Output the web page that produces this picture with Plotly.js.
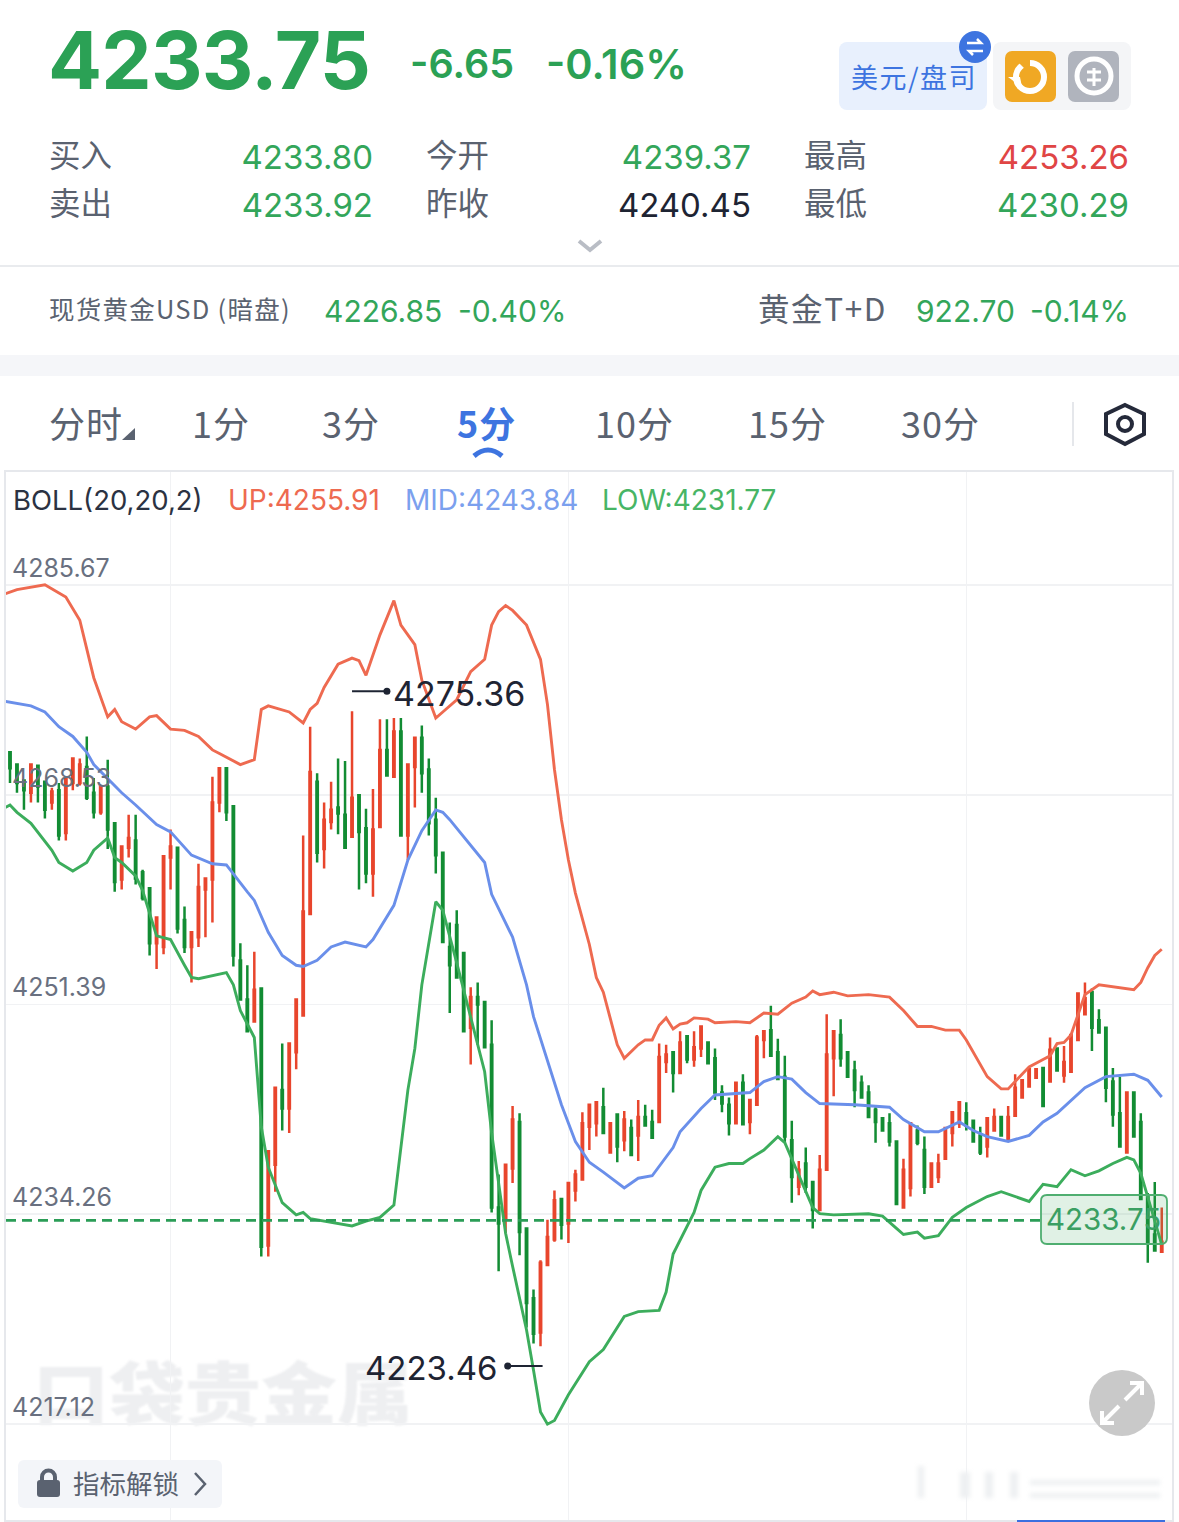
<!DOCTYPE html>
<html><head><meta charset="utf-8">
<script src="https://cdn.plot.ly/plotly-3.0.1.min.js"></script>
<style>
html,body{margin:0;padding:0;background:#fff;width:1179px;height:1522px;overflow:hidden}
body{position:relative;font-family:"Noto Sans CJK SC","Noto Sans",sans-serif;}
.t{position:absolute;white-space:nowrap;line-height:1;transform:translateY(-50%)}
.r{transform:translate(-100%,-50%)}
.n{font-family:"Inter","Noto Sans",sans-serif;}
.b{position:absolute}
#plot{position:absolute;left:0;top:0;width:1179px;height:1522px}
#wm{position:absolute;left:33px;top:1352px;font-size:76px;font-weight:900;color:#eeeff1;filter:blur(1.2px);line-height:1.1;transform:scaleY(.9);transform-origin:top}
</style></head>
<body>
<div id="hdr"></div>
<div id="wm">口袋贵金属</div>
<div id="plot"></div>
<div id="ovl"></div>
<script>
// ---- chart data ----
const tickValues = [4285.67, 4268.53, 4251.39, 4234.26, 4217.12];
const tickLabels = ["4285.67", "4268.53", "4251.39", "4234.26", "4217.12"];
const lastPrice = 4233.75;
const periodHigh = 4275.36, periodLow = 4223.46;

const high = [
4272.0,4271.0,4269.7,4271.0,4270.9,4269.6,4269.1,4269.5,4269.9,4271.5,
4271.5,4273.3,4269.9,4269.2,4271.4,4266.3,4264.3,4266.9,4266.9,4262.4,
4260.9,4258.5,4263.5,4265.7,4264.2,4259.4,4257.3,4262.9,4261.7,4270.0,
4270.7,4270.7,4267.6,4256.4,4254.6,4255.7,4252.7,4239.4,4244.6,4248.2,
4248.2,4251.8,4265.2,4274.1,4270.3,4267.9,4269.6,4271.5,4271.3,4275.36,
4268.5,4267.4,4269.0,4274.7,4274.7,4274.8,4274.8,4271.0,4273.2,4274.2,
4271.5,4268.3,4263.8,4258.1,4259.1,4255.6,4252.8,4253.2,4251.6,4250.1,
4237.5,4238.3,4243.1,4242.5,4233.1,4228.1,4230.5,4233.8,4236.2,4235.5,
4236.8,4237.9,4242.6,4243.2,4243.4,4244.6,4241.7,4242.4,4242.7,4242.0,
4243.6,4243.2,4242.8,4248.2,4248.1,4247.6,4249.2,4248.8,4249.2,4249.6,
4248.3,4247.8,4244.8,4243.8,4245.0,4245.7,4243.6,4248.9,4249.2,4251.3,
4248.6,4247.2,4241.9,4238.6,4239.7,4237.0,4239.1,4250.6,4249.2,4250.2,
4247.5,4246.8,4245.6,4244.8,4243.0,4242.1,4242.5,4240.2,4238.8,4241.7,
4241.5,4240.6,4238.4,4239.2,4241.3,4242.6,4243.4,4243.4,4241.9,4241.4,
4242.1,4242.9,4242.2,4243.1,4245.7,4245.2,4246.1,4246.1,4246.2,4248.7,
4247.8,4248.0,4248.9,4252.3,4253.2,4252.7,4251.0,4249.5,4246.2,4245.5,
4244.2,4244.2,4242.5,4236.0,4236.9,4234.8];
const low = [
4269.5,4268.7,4267.3,4267.9,4267.9,4266.6,4267.3,4264.8,4264.8,4268.9,
4269.3,4268.1,4266.6,4266.9,4264.1,4260.6,4260.8,4263.4,4261.2,4259.9,
4255.4,4254.3,4255.5,4260.8,4257.2,4255.6,4253.2,4256.1,4256.9,4258.1,
4267.1,4266.4,4254.5,4251.8,4249.2,4250.0,4230.8,4230.8,4236.1,4241.1,
4240.9,4246.1,4250.5,4258.8,4263.0,4262.5,4265.7,4265.3,4264.2,4265.1,
4260.8,4261.3,4260.2,4265.9,4270.1,4270.0,4265.2,4263.2,4267.5,4268.7,
4265.2,4262.1,4256.5,4250.7,4253.6,4249.2,4246.5,4248.1,4247.9,4234.4,
4229.6,4232.7,4236.8,4230.9,4225.0,4223.7,4223.46,4230.0,4232.0,4232.2,
4231.9,4235.3,4237.1,4239.5,4240.6,4240.9,4239.3,4238.5,4239.4,4239.1,
4238.6,4241.5,4240.5,4241.8,4245.8,4244.2,4245.8,4246.6,4246.3,4247.1,
4246.5,4243.6,4242.6,4240.7,4241.6,4241.6,4240.8,4243.1,4247.0,4247.2,
4245.3,4240.1,4235.2,4235.8,4236.0,4233.1,4234.6,4237.9,4243.9,4246.3,
4245.5,4243.0,4243.8,4242.2,4240.1,4241.0,4239.8,4235.1,4234.7,4235.7,
4239.9,4235.9,4236.5,4236.8,4238.8,4239.8,4241.3,4241.1,4240.2,4239.1,
4238.9,4241.1,4240.7,4240.3,4242.3,4243.8,4244.7,4245.4,4243.1,4245.1,
4246.0,4245.0,4245.9,4248.5,4250.6,4247.6,4249.1,4243.4,4241.4,4239.8,
4239.3,4240.6,4235.5,4230.29,4231.3,4231.2];
const open = [
4272.0,4271.0,4269.7,4268.7,4270.9,4269.6,4267.9,4268.9,4265.4,4269.5,
4269.5,4270.8,4268.7,4267.1,4269.2,4266.2,4261.6,4264.2,4264.8,4262.2,
4260.9,4256.4,4256.1,4263.4,4264.2,4258.3,4256.1,4256.9,4260.8,4261.6,
4267.9,4270.7,4267.6,4255.0,4251.8,4250.0,4252.7,4231.7,4238.3,4244.4,
4242.9,4247.5,4250.5,4258.8,4269.6,4264.1,4266.3,4267.5,4266.9,4265.1,
4268.5,4265.8,4262.1,4265.9,4272.2,4270.0,4273.7,4265.2,4270.8,4273.2,
4270.6,4266.5,4263.8,4256.1,4257.9,4255.6,4249.5,4252.0,4251.6,4248.1,
4234.8,4233.8,4238.0,4241.8,4233.1,4227.4,4224.6,4230.1,4232.2,4235.5,
4233.5,4236.2,4237.1,4241.4,4241.7,4243.0,4239.3,4242.4,4240.3,4241.3,
4240.7,4242.2,4241.8,4241.8,4246.7,4247.5,4245.8,4248.8,4246.9,4247.8,
4248.3,4247.0,4244.2,4243.2,4241.7,4245.0,4241.8,4243.2,4248.5,4249.3,
4247.5,4245.5,4240.3,4236.5,4238.4,4236.9,4234.6,4237.9,4247.0,4248.9,
4247.5,4246.0,4245.0,4244.2,4242.8,4242.1,4241.7,4240.2,4234.8,4236.4,
4241.1,4239.5,4236.5,4237.3,4238.8,4240.9,4241.7,4242.5,4241.9,4240.7,
4239.8,4241.1,4242.2,4240.3,4242.3,4243.8,4244.7,4245.4,4246.2,4245.1,
4247.8,4245.6,4245.9,4248.5,4250.6,4252.4,4250.1,4249.5,4245.1,4242.5,
4239.3,4244.2,4241.8,4235.8,4232.6,4231.2];
const close = [
4270.7,4269.5,4268.9,4271.0,4269.2,4267.3,4268.8,4265.2,4269.9,4271.5,
4271.0,4268.3,4267.1,4269.2,4265.7,4261.4,4264.3,4265.0,4261.7,4260.1,
4256.4,4258.5,4263.5,4264.3,4257.6,4256.1,4257.3,4261.0,4261.7,4267.9,
4270.7,4267.1,4255.4,4251.8,4249.2,4252.6,4231.6,4239.4,4244.6,4242.9,
4248.2,4251.8,4259.0,4270.4,4263.8,4266.5,4267.3,4267.0,4264.2,4268.3,
4265.5,4262.1,4265.7,4272.2,4270.1,4273.7,4265.2,4271.0,4273.2,4270.3,
4266.2,4263.6,4256.5,4254.6,4253.6,4249.2,4252.0,4251.4,4247.9,4234.8,
4233.5,4238.3,4242.0,4232.8,4227.0,4224.5,4230.3,4232.4,4235.4,4233.4,
4236.8,4237.5,4241.7,4243.2,4243.4,4240.9,4241.7,4239.8,4242.0,4239.1,
4242.2,4241.5,4240.5,4247.1,4247.3,4245.8,4248.3,4246.9,4247.9,4249.6,
4246.6,4244.2,4243.3,4241.7,4245.0,4241.6,4243.6,4248.7,4249.2,4247.2,
4245.3,4240.6,4237.3,4237.9,4236.5,4234.6,4237.9,4247.3,4249.2,4247.0,
4245.5,4244.4,4243.8,4242.2,4241.8,4241.1,4240.2,4235.1,4237.9,4241.7,
4240.1,4236.5,4238.4,4238.4,4241.3,4242.6,4243.4,4241.5,4240.2,4239.3,
4242.1,4242.2,4240.7,4242.2,4244.6,4245.2,4246.1,4246.1,4243.1,4247.7,
4246.0,4246.7,4248.9,4252.3,4251.9,4249.5,4249.1,4244.6,4242.4,4239.8,
4244.2,4240.6,4235.5,4231.9,4231.3,4232.0];

const upIdx = [-1,1,5,8,10,12,14,15,16,18,20,21,23,25,27,29,30,33,35,36,37,40,42,43,44,45,47,49,50,51,53,55,56,58,59,61,62,64,66,68,69,70,71,72,74,76,77,78,79,80,81,83,84,85,87,88,90,91,92,93,94,95,96,97,98,100,101,104,106,108,110,112,114,115,116,118,120,123,126,128,130,132,134,136,137,139,140,142,143,144,146,148,149,150,151,152,153,154,156,161,162,163,164,165];
const upVal = [4284.9,4285.3,4285.7,4284.7,4282.8,4278.1,4274.9,4275.5,4274.5,4273.9,4274.9,4275.0,4273.9,4273.8,4273.3,4272.2,4271.9,4271.0,4271.4,4275.5,4275.8,4275.3,4274.4,4275.5,4276.0,4277.3,4279.2,4279.7,4279.5,4278.3,4281.6,4284.4,4282.4,4280.8,4277.9,4274.8,4275.3,4276.3,4278.6,4279.6,4282.4,4283.5,4284.0,4283.6,4282.4,4279.6,4275.9,4270.6,4266.5,4263.2,4260.5,4256.3,4253.6,4252.4,4248.1,4247.0,4248.1,4248.5,4248.5,4249.7,4250.3,4249.4,4249.8,4249.9,4250.3,4250.2,4249.9,4250.0,4249.9,4250.7,4250.6,4251.5,4252.0,4252.5,4252.2,4252.4,4252.1,4252.2,4252.0,4250.9,4249.6,4249.6,4249.3,4249.3,4248.5,4246.5,4245.5,4244.5,4244.5,4245.1,4246.3,4246.9,4247.2,4248.2,4248.3,4248.9,4250.5,4252.2,4253.0,4252.6,4253.2,4254.4,4255.4,4255.91];

const midIdx = [-1,3,5,7,9,11,12,16,18,21,23,26,29,31,34,35,37,39,41,42,44,46,48,51,52,55,57,59,61,62,63,68,69,72,74,75,79,81,83,85,88,90,92,95,96,99,101,103,106,108,110,112,114,116,121,126,128,131,133,136,138,140,143,146,148,150,154,157,161,163,165];
const midVal = [4276.2,4275.8,4275.3,4274.1,4273.3,4272.0,4271.0,4268.7,4267.7,4266.1,4265.5,4263.6,4262.9,4262.8,4260.6,4259.9,4257.3,4255.4,4254.6,4254.5,4255.0,4256.1,4256.5,4256.1,4256.7,4259.5,4263.2,4265.6,4267.3,4267.1,4266.5,4263.0,4260.4,4256.9,4253.0,4250.4,4243.2,4240.2,4238.5,4237.7,4236.4,4237.2,4237.4,4239.7,4241.0,4242.9,4244.0,4244.1,4244.2,4245.1,4245.5,4245.3,4244.2,4243.3,4243.2,4243.0,4242.0,4241.0,4241.0,4241.8,4241.1,4240.6,4240.2,4240.7,4241.8,4242.5,4244.6,4245.5,4245.7,4245.2,4243.84];

const lowIdx = [-1,0,1,3,6,7,9,11,12,14,15,16,18,19,21,23,25,26,27,31,32,33,35,36,37,39,41,42,43,47,49,51,53,55,57,58,59,61,62,64,68,69,71,72,74,75,76,77,78,80,83,85,88,90,93,94,95,98,99,101,103,105,106,108,110,111,115,116,118,123,125,127,128,130,131,133,135,137,140,142,146,148,150,152,154,156,158,160,161,162,165];
const lowVal = [4267.4,4267.7,4267.1,4266.2,4264.0,4263.0,4262.3,4263.0,4264.0,4265.0,4263.4,4263.0,4261.9,4260.7,4257.0,4256.7,4254.6,4253.6,4253.5,4254.0,4253.0,4250.9,4248.7,4241.4,4238.1,4235.2,4234.2,4234.4,4233.9,4233.5,4233.3,4233.7,4234.0,4235.0,4244.4,4247.8,4253.0,4259.8,4259.1,4254.8,4245.9,4240.9,4232.7,4230.0,4224.8,4221.5,4218.1,4217.1,4217.4,4219.5,4222.2,4223.2,4225.9,4226.3,4226.4,4227.9,4231.0,4234.4,4236.2,4238.1,4238.4,4238.4,4238.8,4239.5,4240.6,4240.1,4234.8,4234.3,4234.2,4234.3,4234.1,4233.1,4232.6,4232.8,4232.3,4232.5,4234.0,4234.8,4235.7,4236.1,4235.3,4236.7,4236.5,4237.9,4237.4,4237.8,4238.4,4238.9,4238.7,4237.6,4231.77];

const bollLabels = ["BOLL(20,20,2)","UP:4255.91","MID:4243.84","LOW:4231.77"];

// ---- header text ----
const quoteRows = [
 ["买入","4233.80","今开","4239.37","最高","4253.26"],
 ["卖出","4233.92","昨收","4240.45","最低","4230.29"]];
const tabs = ["分时","1分","3分","5分","10分","15分","30分"];

// ---- colours ----
const RED="#e8452c", GREEN="#128c33", cUp="#ee6a50", cMid="#6a8fea", cLow="#3cad5c", gTxt="#33a65a", grey="#5a6270";

// ---- html chrome ----
const h=[];
function T(x,y,s,txt,c,opt){opt=opt||{};h.push(`<div class="t ${opt.r?'r':''} ${opt.n?'n':''}" style="left:${x}px;top:${y}px;font-size:${s}px;color:${c};font-weight:${opt.w||400};${opt.x||''}">${txt}</div>`);}
function B(x,y,w,ht,c,r){h.push(`<div class="b" style="left:${x}px;top:${y}px;width:${w}px;height:${ht}px;background:${c};border-radius:${r||0}px"></div>`);}
T(48,60,80,"4233.75","#2ba155",{n:1,w:700,x:"letter-spacing:-0.8px;"});
T(410,65,39.5,"-6.65","#2ba155",{n:1,w:600});
T(546,65,41.5,"-0.16%","#2ba155",{n:1,w:600});
B(839,42,148,68,"#e8f0fd",8);
T(851,76,27,"美元/盘司","#3d74e0",{x:"letter-spacing:1.5px;"});
B(993,42,138,68,"#f4f5f7",8);
B(1005,51,51,51,"#f0a824",7);
B(1068,51,51,51,"#b0b4bd",7);
h.push(`<svg class="b" style="left:0;top:0" width="1179" height="480">
<circle cx="975" cy="47" r="16" fill="#3d74e0"/>
<path d="M967 43h14l-4-4M983 51h-14l4 4" stroke="#fff" stroke-width="2.5" fill="none"/>
<circle cx="1030" cy="77" r="14" stroke="#fff" stroke-width="6" fill="none"/><path d="M1008 77h12l2 10z" fill="#fff"/><path d="M1016 60h14v14z" fill="#f0a824"/>
<circle cx="1094" cy="76" r="17" stroke="#fff" stroke-width="5" fill="none"/>
<path d="M1087 72h14M1087 80h14M1094 68v18" stroke="#fff" stroke-width="3"/>
<path d="M579 241l11 9 11-9" stroke="#b9bdc5" stroke-width="4" fill="none"/>
<path d="M122 440h13v-12z" fill="#5a6270"/>
<path d="M474 456q14-12 28 0" stroke="#3d74e0" stroke-width="5" fill="none"/>
<path d="M1125 406l19 9v20l-19 10-19-10v-20z" transform="translate(0,-1)" stroke="#252a3a" stroke-width="4" fill="none"/>
<circle cx="1125" cy="424" r="7" stroke="#252a3a" stroke-width="4" fill="none"/>
</svg>`);
const colsL=[49,426,804], colsR=[373,751,1129], rowY=[154,202];
const numY=[157,205];
const valColors=[[gTxt,gTxt,"#e04545"],[gTxt,"#1e2433",gTxt]];
quoteRows.forEach((row,ri)=>{for(let c=0;c<3;c++){T(colsL[c],rowY[ri],31.5,row[c*2],grey);T(colsR[c],numY[ri],33,row[c*2+1],valColors[ri][c],{r:1,n:1});}});
B(0,265,1179,2,"#e9ebee");
T(49,308,25.5,"现货黄金USD (暗盘)",grey,{x:"letter-spacing:1.25px;"});
T(324,311,30,"4226.85",gTxt,{n:1});
T(458,311,30,"-0.40%",gTxt,{n:1});
T(758,308,31.5,"黄金T+D",grey,{x:"letter-spacing:1.6px;"});
T(916,311,30,"922.70",gTxt,{n:1});
T(1129,311,30,"-0.14%",gTxt,{r:1,n:1});
B(0,355,1179,21,"#f5f6f9");
const tabX=[49,192,322,457,595,748,901];
tabs.forEach((t,i)=>T(tabX[i],422,36,t,i==3?"#3d74e0":grey,{w:i==3?700:400,x:"letter-spacing:1px;"}));
B(1072,402,2,44,"#e5e7eb");
document.getElementById('hdr').innerHTML=h.join('');

const o=[];
o.push(`<div class="b" style="left:18px;top:1460px;width:204px;height:48px;background:#f3f5f9;border-radius:6px"></div>`);
o.push(`<div class="t" style="left:73px;top:1483px;font-size:26.5px;color:#5a6270">指标解锁</div>`);
o.push(`<svg class="b" style="left:0;top:1360px" width="1179" height="162">
<rect x="37" y="120" width="23" height="17" rx="3" fill="#5a6270"/><path d="M42 120v-3a6.5 6.5 0 0 1 13 0v3" stroke="#5a6270" stroke-width="4" fill="none"/>
<path d="M195 113l10 11-10 11" stroke="#5a6270" stroke-width="2.5" fill="none"/>
<circle cx="1122" cy="43" r="33" fill="#c9c9c9"/>
<path d="M1125 40l17-17M1130 23h12v12M1119 46l-17 17M1102 51v12h12" stroke="#fff" stroke-width="4" fill="none"/>
<rect x="1017" y="160" width="148" height="2" fill="#3b6fe0"/>
<g fill="#eef0f2" style="filter:blur(2px)"><rect x="918" y="106" width="6" height="32"/><rect x="960" y="112" width="10" height="26"/><rect x="985" y="112" width="8" height="26"/><rect x="1010" y="112" width="8" height="26"/><rect x="1030" y="120" width="130" height="5"/><rect x="1030" y="133" width="130" height="5"/></g>
</svg>`);
document.getElementById('ovl').innerHTML=o.join('');

// ---- plot ----
const W=1179,H=1522,L=6,R=1172,TP=472,BT=1520;
const px=x=>(x-L)/(R-L), py=y=>(BT-y)/(BT-TP);
const xs=high.map((_,i)=>i);
const line=(x,y,c)=>({type:'scatter',mode:'lines',x,y,line:{color:c,width:2.9},hoverinfo:'skip',showlegend:false});
const traces=[
 {type:'candlestick',x:xs,open,high,low,close,whiskerwidth:0,
  increasing:{line:{color:RED,width:2.5},fillcolor:RED},
  decreasing:{line:{color:GREEN,width:2.5},fillcolor:GREEN},showlegend:false,hoverinfo:'skip'},
 line(upIdx,upVal,cUp),line(midIdx,midVal,cMid),line(lowIdx,lowVal,cLow),
 {type:'scatter',mode:'markers',x:[54,71.3],y:[4277.0,4221.85],marker:{color:'#1e2433',size:7},hoverinfo:'skip',showlegend:false}
];
const ann=(x,y,t,c,s,a)=>Object.assign({xref:'paper',yref:'paper',x:px(x),y:py(y),text:t,showarrow:false,xanchor:'left',yanchor:'middle',font:{color:c,size:s}},a||{});
// rounded last-price tag outline
const rx0=px(1041),rx1=px(1167),ry0=py(1244),ry1=py(1195),ex=6/(R-L),ey=6/(BT-TP);
const tagPath=`M ${rx0+ex} ${ry0} L ${rx1-ex} ${ry0} Q ${rx1} ${ry0} ${rx1} ${ry0+ey} L ${rx1} ${ry1-ey} Q ${rx1} ${ry1} ${rx1-ex} ${ry1} L ${rx0+ex} ${ry1} Q ${rx0} ${ry1} ${rx0} ${ry1-ey} L ${rx0} ${ry0+ey} Q ${rx0} ${ry0} ${rx0+ex} ${ry0} Z`;
const layout={
 width:W,height:H,paper_bgcolor:'rgba(0,0,0,0)',plot_bgcolor:'rgba(0,0,0,0)',
 margin:{l:L,r:W-R,t:TP,b:H-BT,pad:0},showlegend:false,boxgap:0.72,hovermode:false,dragmode:false,
 font:{family:'Inter, "Noto Sans CJK SC", sans-serif'},
 xaxis:{type:'linear',range:[-0.573,166.47],tickmode:'array',tickvals:[23,80,137],showticklabels:false,ticks:'',
  showgrid:true,gridcolor:'#f1f2f4',gridwidth:1.5,zeroline:false,showline:true,mirror:true,linecolor:'#e6e8ec',linewidth:2,rangeslider:{visible:false}},
 yaxis:{type:'linear',range:[4209.27,4294.91],tickmode:'array',tickvals:tickValues,ticktext:tickLabels,
  ticklabelposition:'inside',ticklabelshift:-17,ticklabelstandoff:8,ticks:'',tickfont:{size:25,color:'#697080',family:'Inter, sans-serif'},
  showgrid:true,gridcolor:'#f1f2f4',gridwidth:1.5,zeroline:false,showline:true,mirror:true,linecolor:'#e6e8ec',linewidth:2},
 shapes:[
  {type:'line',xref:'x',yref:'y',x0:-0.573,x1:147.7,y0:lastPrice,y1:lastPrice,line:{color:'#2b9d57',width:2.8,dash:'10px,6px'}},
  {type:'line',xref:'x',yref:'y',x0:49,x1:54,y0:4277.0,y1:4277.0,line:{color:'#1e2433',width:2}},
  {type:'line',xref:'x',yref:'y',x0:71.3,x1:76.3,y0:4221.85,y1:4221.85,line:{color:'#1e2433',width:2}},
  {type:'path',xref:'paper',yref:'paper',path:tagPath,fillcolor:'rgba(60,170,95,0.16)',line:{color:'#4fae70',width:1.8},layer:'above'}
 ],
 annotations:[
  ann(11,500,bollLabels[0],'#2b3242',27.5),
  ann(226,500,bollLabels[1],cUp,28),
  ann(403,500,bollLabels[2],'#7ba0ee',28),
  ann(600,500,bollLabels[3],'#47b565',28),
  ann(391,693,String(periodHigh),'#1e2433',34),
  ann(500,1368,String(periodLow),'#1e2433',33,{xanchor:'right'}),
  ann(1044,1219,"4233.75",'#3a9f62',29.5)
 ]
};
Plotly.newPlot('plot',traces,layout,{staticPlot:true,displayModeBar:false});
</script>
</body></html>
